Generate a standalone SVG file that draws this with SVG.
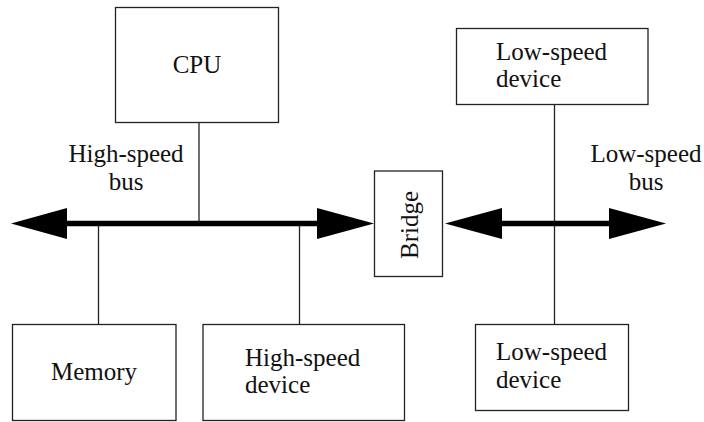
<svg xmlns="http://www.w3.org/2000/svg" width="704" height="422" viewBox="0 0 704 422">
<style>
.box{fill:#fff;stroke:#222;stroke-width:1.3}
.ln{stroke:#222;stroke-width:1.3;fill:none}
.bus{stroke:#000;stroke-width:5.5;fill:none}
.head{fill:#000}
text{font-family:"Liberation Serif","Times New Roman",serif;font-size:25px;fill:#111}
</style>
<rect width="704" height="422" fill="#fff"/>
<g id="connectors">
<line class="ln" x1="199" y1="123" x2="199" y2="223.5"/>
<line class="ln" x1="98.5" y1="223.5" x2="98.5" y2="324"/>
<line class="ln" x1="299.5" y1="223.5" x2="299.5" y2="324"/>
<line class="ln" x1="554.5" y1="105" x2="554.5" y2="324"/>
<line class="bus" x1="66" y1="223.5" x2="318" y2="223.5"/>
<polygon class="head" points="11,223.5 67,208 67,239"/>
<polygon class="head" points="374,223.5 317,208 317,239"/>
<line class="bus" x1="501" y1="223.5" x2="610" y2="223.5"/>
<polygon class="head" points="445,223.5 502,208 502,239"/>
<polygon class="head" points="666,223.5 609,208 609,239"/>
<text x="126" y="162" text-anchor="middle">High-speed</text>
<text x="126" y="190" text-anchor="middle">bus</text>
<text x="646" y="162" text-anchor="middle">Low-speed</text>
<text x="646" y="190" text-anchor="middle">bus</text>
</g>
<g id="cpu">
<rect class="box" x="115.5" y="7.5" width="163" height="115"/>
<text x="197" y="73" text-anchor="middle">CPU</text>
</g>
<g id="bridge">
<rect class="box" x="374.5" y="171" width="68" height="105.5"/>
<text transform="translate(418,225) rotate(-90)" text-anchor="middle">Bridge</text>
</g>
<g id="lowdev-top">
<rect class="box" x="456.5" y="28.5" width="191.5" height="76"/>
<text x="496" y="60">Low-speed</text>
<text x="496" y="87">device</text>
</g>
<g id="memory">
<rect class="box" x="12.5" y="324.5" width="163.5" height="96"/>
<text x="94" y="380" text-anchor="middle">Memory</text>
</g>
<g id="highdev">
<rect class="box" x="203" y="324.5" width="201.5" height="96"/>
<text x="245" y="366">High-speed</text>
<text x="245" y="393">device</text>
</g>
<g id="lowdev-bottom">
<rect class="box" x="475.5" y="324.5" width="153" height="86"/>
<text x="496" y="360">Low-speed</text>
<text x="496" y="388">device</text>
</g>
</svg>
